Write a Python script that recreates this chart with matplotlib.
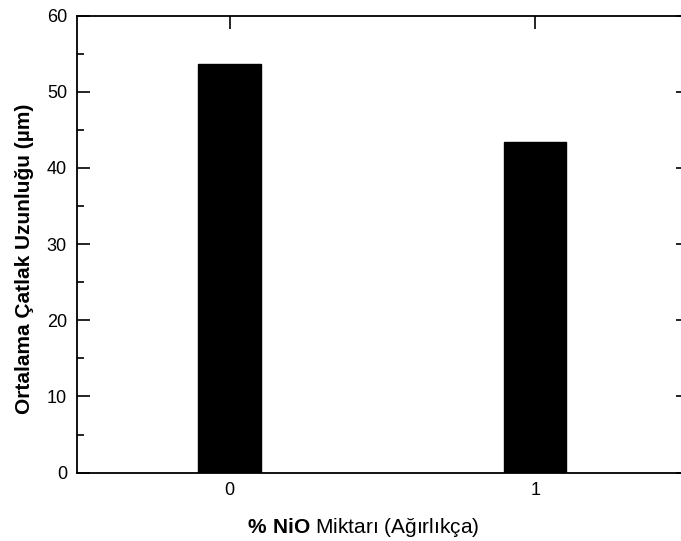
import matplotlib
matplotlib.use("Agg")
import matplotlib.pyplot as plt
from matplotlib.ticker import MultipleLocator

categories = ["0", "1"]
values = [53.7, 43.4]
yticks = [0, 10, 20, 30, 40, 50, 60]

plt.rcParams['font.family'] = ['Liberation Sans', 'DejaVu Sans']
plt.rcParams['mathtext.fontset'] = 'custom'
plt.rcParams['mathtext.rm'] = 'Liberation Sans'
plt.rcParams['mathtext.bf'] = 'Liberation Sans:bold'

fig = plt.figure(figsize=(6.81, 5.41), dpi=100)
ax = fig.add_axes([0.1126, 0.1263, 0.8977, 0.845])
x = list(range(len(categories)))
ax.bar(x, values, width=0.203, color='black', edgecolor='black')
ax.set_xlim(-0.5, 1.5)
ax.set_ylim(0, 60)
ax.set_xticks(x)
ax.set_xticklabels(categories)
ax.set_yticks(yticks)
ax.yaxis.set_minor_locator(MultipleLocator(5))
ax.tick_params(axis='both', which='major', direction='in', length=9, width=1.2,
               labelsize=13, top=True, right=True, pad=7)
ax.tick_params(axis='y', which='minor', direction='in', length=5, width=1.2,
               right=True, left=True)
for s in ax.spines.values():
    s.set_linewidth(1.3)
ax.set_ylabel('Ortalama Çatlak Uzunluğu (µm)', fontsize=15, fontweight='bold')
ax.set_xlabel(r'$\mathbf{\%\ NiO}$ Miktarı (Ağırlıkça)', fontsize=15)
ax.yaxis.set_label_coords(-0.069, 0.467)
ax.xaxis.set_label_coords(0.4686, -0.095)
fig.savefig('out.png', dpi=100)
